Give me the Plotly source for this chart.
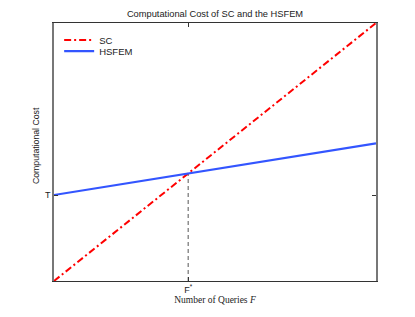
import plotly.graph_objects as go

# Data (normalized units)
x_range = [0.0, 1.0]
sc_cost = [0.0, 1.0]
hsfem_cost = [1/3, 1/3 + 0.2]
T_value = 1/3
F_star = (1/3) / 0.8
x_tick_labels = ["F<sup>*</sup>"]
y_tick_labels = ["T"]

fig = go.Figure()
fig.add_trace(go.Scatter(x=[F_star, F_star], y=[0, F_star], mode="lines",
                         line=dict(color="#555555", width=1, dash="4px,3px"),
                         showlegend=False, hoverinfo="skip"))
fig.add_trace(go.Scatter(x=x_range, y=sc_cost, mode="lines", name="SC", legend="legend",
                         line=dict(color="#ff0000", width=2, dash="7px,3px,2px,3px")))
fig.add_trace(go.Scatter(x=x_range, y=hsfem_cost, mode="lines", name="HSFEM", legend="legend2",
                         line=dict(color="#3355ff", width=2.2)))

leg_common = dict(xanchor="left", yanchor="middle", bgcolor="rgba(0,0,0,0)",
                  font=dict(size=9.5, color="#222"), itemwidth=30)

# page body has 8px default margin; compensate
fig.update_layout(
    width=415, height=317,
    margin=dict(l=46, r=47, t=15, b=44),
    paper_bgcolor="white", plot_bgcolor="white",
    font=dict(family="Liberation Sans, Arial, sans-serif", size=9, color="#222"),
    title=dict(text="Computational Cost of SC and the HSFEM", x=(215 - 8) / 415, xanchor="center",
               xref="container", yref="container",
               y=1 - 6 / 317, yanchor="middle", font=dict(size=9.3, color="#222")),
    legend=dict(x=0.016, y=0.934, **leg_common),
    legend2=dict(x=0.016, y=0.891, **leg_common),
    xaxis=dict(range=x_range, showgrid=False, zeroline=False, showline=True, mirror="ticks",
               linecolor="#333", linewidth=1, ticks="inside", ticklen=4, tickcolor="#333",
               tickvals=[F_star], ticktext=x_tick_labels, tickfont=dict(size=9),
               title=dict(text="Number of Queries <i>F</i>", standoff=0,
                          font=dict(family="Liberation Serif, DejaVu Serif, serif", size=9.5, color="#222"))),
    yaxis=dict(range=[0, 1], showgrid=False, zeroline=False, showline=True, mirror="ticks",
               linecolor="#777", linewidth=1.5, ticks="inside", ticklen=4, tickcolor="#333",
               tickvals=[T_value], ticktext=y_tick_labels, tickfont=dict(size=9)),
    annotations=[dict(text="Computational Cost", xref="paper", yref="paper",
                      x=-0.056, y=0.527, xanchor="center", yanchor="middle",
                      textangle=-90, showarrow=False, font=dict(size=8.7, color="#222"))],
)

fig.write_html("out.html")
